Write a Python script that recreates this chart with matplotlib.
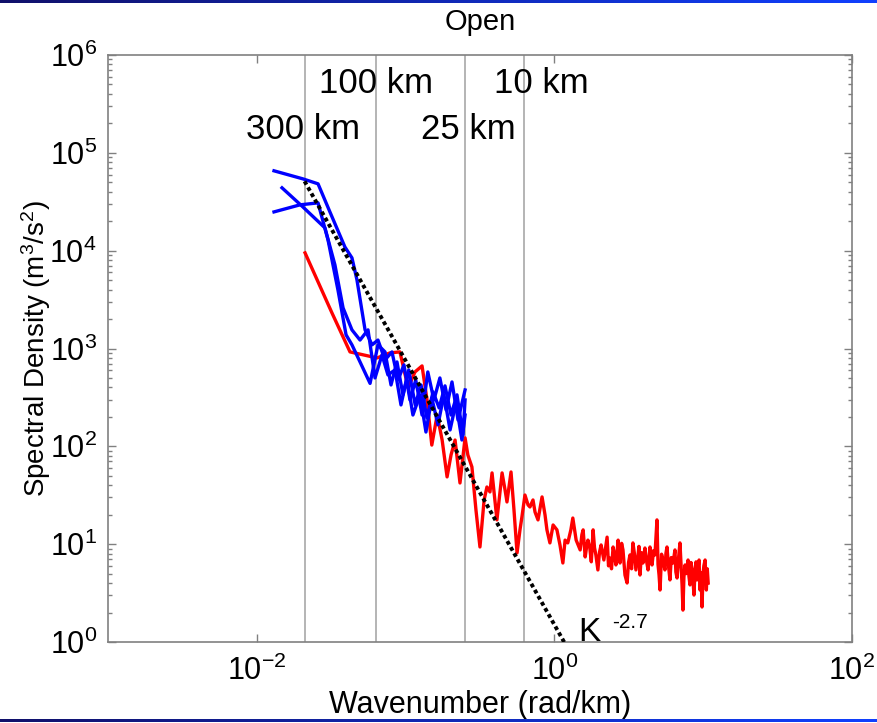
import numpy as np
import matplotlib
matplotlib.use("Agg")
import matplotlib.pyplot as plt
from matplotlib.patches import Rectangle
from matplotlib.ticker import FixedLocator, LogLocator, NullFormatter, FuncFormatter

plt.rcParams['font.family'] = ['Liberation Sans', 'DejaVu Sans']
plt.rcParams['mathtext.fontset'] = 'custom'
plt.rcParams['mathtext.rm'] = 'Liberation Sans'
plt.rcParams['mathtext.it'] = 'Liberation Sans:italic'

# red spectrum (rad/km, m^3/s^2)
red_k = [0.0211, 0.0320, 0.0423, 0.0643, 0.0785, 0.0916, 0.104, 0.1156, 0.129, 0.1393,
         0.150, 0.163, 0.176, 0.190, 0.202, 0.215, 0.232, 0.251, 0.262, 0.279,
         0.297, 0.316, 0.337, 0.352, 0.369, 0.381, 0.411, 0.445, 0.466, 0.480,
         0.511, 0.535, 0.561, 0.587, 0.605, 0.634, 0.665, 0.685, 0.718, 0.741,
         0.776, 0.826, 0.865, 0.891, 0.933, 0.980, 1.04, 1.09, 1.14, 1.18,
         1.23, 1.29, 1.33, 1.40,
         1.49, 1.53, 1.56, 1.61, 1.65, 1.68, 1.73, 1.77, 1.82, 1.86,
         1.90, 1.96, 2.01, 2.06, 2.15, 2.20, 2.26, 2.31, 2.36, 2.42,
         2.48, 2.53, 2.59, 2.68, 2.72, 2.76, 2.83, 2.89, 2.98, 3.08,
         3.15, 3.22, 3.30, 3.37, 3.45, 3.53, 3.65, 3.70, 3.76, 3.85,
         3.94, 4.06, 4.15, 4.26, 4.39, 4.45, 4.53, 4.64, 4.74, 4.89,
         4.97, 5.05, 5.13, 5.25, 5.37, 5.53, 5.62, 5.71, 5.85, 5.98,
         6.10, 6.27, 6.46, 6.55, 6.67, 6.85, 6.98, 7.10, 7.21, 7.31,
         7.42, 7.55, 7.70, 7.91, 8.02, 8.15, 8.28, 8.41, 8.55, 8.67,
         8.81, 8.95, 9.08, 9.23, 9.38, 9.52, 9.67, 9.82, 9.97, 10.1,
         10.3, 10.5, 10.65, 10.8]
red_s = [9490, 2310, 923, 801, 902, 923, 395, 576, 664, 298,
         103, 209, 116, 48.7, 81.7, 116, 42.2, 122, 81.7, 61.6,
         22.4, 9.36, 28.3, 38.4, 34.2, 53.5, 17.7, 53.5, 35.8, 27.0,
         54.7, 22.4, 8.13, 14.0, 19.0, 31.8, 25.2, 24.0, 28.3, 21.3,
         17.7, 30.4, 19.9, 14.0, 10.3, 15.7, 14.0, 9.82, 6.42, 11.0,
         10.3, 14.0, 18.5, 11.0,
         8.73, 12.5, 14.0, 7.40, 9.6, 11.0, 9.14, 6.6, 14.0, 9.2,
         7.76, 5.45, 8.3, 9.82, 6.89, 8.9, 11.8, 6.0, 7.22, 5.6,
         9.36, 7.9, 6.13, 11.0, 7.4, 6.42, 10.2, 8.73, 4.84, 4.01,
         6.5, 7.76, 5.6, 10.3, 8.0, 5.45, 7.76, 9.5, 4.84, 8.2,
         6.42, 9.14, 6.9, 5.45, 9.36, 7.1, 6.13, 8.6, 7.76, 17.7,
         6.2, 4.84, 3.40, 7.9, 6.89, 5.45, 8.1, 9.36, 5.9, 4.31,
         7.3, 6.42, 8.73, 5.2, 4.51, 7.6, 10.3, 6.1, 3.83, 2.12,
         4.6, 6.13, 5.0, 6.89, 4.7, 3.83, 6.5, 5.45, 4.1, 3.02,
         5.45, 6.6, 4.31, 5.8, 6.89, 3.40, 5.1, 2.28, 4.84, 6.0,
         6.89, 3.40, 5.6, 4.01]

# blue spectra
blue_a_k = [0.01305, 0.0204, 0.0258, 0.0310, 0.0391, 0.0436, 0.0471, 0.0534, 0.0595, 0.0652,
            0.0727, 0.0810, 0.0889, 0.0975, 0.107, 0.117, 0.129, 0.141, 0.155, 0.170,
            0.187, 0.205, 0.225, 0.251]
blue_a_s = [65500, 54200, 48200, 24900, 10900, 8440, 5030, 1550, 1090, 1220,
            764, 923, 477, 680, 298, 477, 209, 576, 298, 500,
            236, 455, 186, 377]
blue_b_k = [0.01477, 0.0204, 0.0287, 0.0335, 0.0380, 0.0436, 0.0494, 0.0559, 0.0623, 0.0694,
            0.0761, 0.0849, 0.0931, 0.102, 0.112, 0.125, 0.137, 0.150, 0.165, 0.181,
            0.199, 0.218, 0.239, 0.251]
blue_b_s = [43900, 28000, 17100, 7160, 2600, 1550, 1220, 1550, 500, 860,
            537, 604, 265, 500, 209, 336, 140, 313, 166, 336,
            147, 278, 116, 209]
blue_c_k = [0.01305, 0.0195, 0.0258, 0.0301, 0.0351, 0.0398, 0.0436, 0.0494, 0.0577, 0.0652,
            0.0727, 0.0798, 0.0875, 0.0960, 0.105, 0.116, 0.127, 0.139, 0.153, 0.168,
            0.184, 0.202, 0.2215, 0.243, 0.251]
blue_c_s = [24900, 29400, 30800, 12900, 3970, 1380, 1090, 729, 440, 1090,
            923, 424, 729, 336, 604, 265, 424, 195, 360, 247,
            415, 209, 336, 131, 298]

# K^-2.7 fit
fit_amp = 1.5
fit_slope = -2.7
fit_k = np.array([2 * np.pi / 300, 1.17])

# reference wavelengths (km)
scales_km = [300, 100, 25, 10]
scale_labels = ['300 km', '100 km', '25 km', '10 km']

fig = plt.figure(figsize=(8.77, 7.23), dpi=100)
ax = fig.add_axes([108 / 877, 1 - 642 / 723, 744 / 877, 587 / 723])

for L in scales_km:
    ax.axvline(2 * np.pi / L, color='#a0a0a0', lw=1.1, zorder=1)

ax.plot(red_k, red_s, color='#ff0000', lw=2.4, zorder=3)
for bk, bs in [(blue_a_k, blue_a_s), (blue_b_k, blue_b_s), (blue_c_k, blue_c_s)]:
    ax.plot(bk, bs, color='#0000ff', lw=2.4, zorder=4)
ax.plot(fit_k, fit_amp * fit_k ** fit_slope, color='black', lw=2.8,
        linestyle=(0, (1, 0.8)), zorder=5)

ax.set_xscale('log')
ax.set_yscale('log')
ax.set_xlim(1e-3, 1e2)
ax.set_ylim(1e0, 1e6)

# scale labels above the curves
label_pos = [(1.72e5, -2), (5.1e5, 0), (1.72e5, 3), (5.1e5, 17)]
for L, txt, (yv, dx) in zip(scales_km, scale_labels, label_pos):
    ax.annotate(txt, xy=(2 * np.pi / L, yv), xytext=(dx, 0), textcoords='offset pixels',
                ha='center', va='center', fontsize=25, zorder=6)

ax.text(1.44, 1.03, 'K', fontsize=24, ha='left', va='baseline')
ax.text(2.44, 1.4, '-2.7', fontsize=15, ha='left', va='baseline')

fmt = FuncFormatter(lambda v, p: r'$\mathregular{10^{%d}}$' % round(np.log10(v)))
ax.xaxis.set_major_locator(FixedLocator([1e-2, 1e0, 1e2]))
ax.xaxis.set_minor_locator(FixedLocator([]))
ax.xaxis.set_major_formatter(fmt)
ax.yaxis.set_major_locator(LogLocator(base=10, numticks=10))
ax.yaxis.set_minor_locator(LogLocator(base=10, subs=np.arange(2, 10), numticks=10))
ax.yaxis.set_minor_formatter(NullFormatter())
ax.yaxis.set_major_formatter(fmt)
ax.tick_params(which='both', direction='in', top=True, right=True, colors='#808080',
               labelcolor='black', labelsize=22)
ax.tick_params(which='major', length=6, width=1)
ax.tick_params(which='minor', length=3, width=1)
ax.tick_params(axis='y', pad=8)
ax.tick_params(axis='x', pad=10)
for sp in ax.spines.values():
    sp.set_color('#808080')
    sp.set_linewidth(1.2)

ax.set_xlabel('Wavenumber (rad/km)', fontsize=22)
ax.xaxis.set_label_coords(0.5, -0.081)
ax.set_ylabel(r'Spectral Density (m$\mathregular{^3}$/s$\mathregular{^2}$)', fontsize=20)
ax.yaxis.set_label_coords(-0.074, 0.5)
ax.set_title('Open', fontsize=21, pad=18)

# blue rules along the top and bottom edges
cmap = matplotlib.colors.LinearSegmentedColormap.from_list('edge', ['#10106a', '#1040ff'])
nseg = 120
for y0 in [1 - 2.5 / 723, 1.5 / 723]:
    for i in range(nseg):
        fig.patches.append(Rectangle((i / nseg, y0), 1 / nseg + 0.001, 2.5 / 723,
                                     transform=fig.transFigure, color=cmap(i / nseg), lw=0))

fig.savefig('out.png', dpi=100)
